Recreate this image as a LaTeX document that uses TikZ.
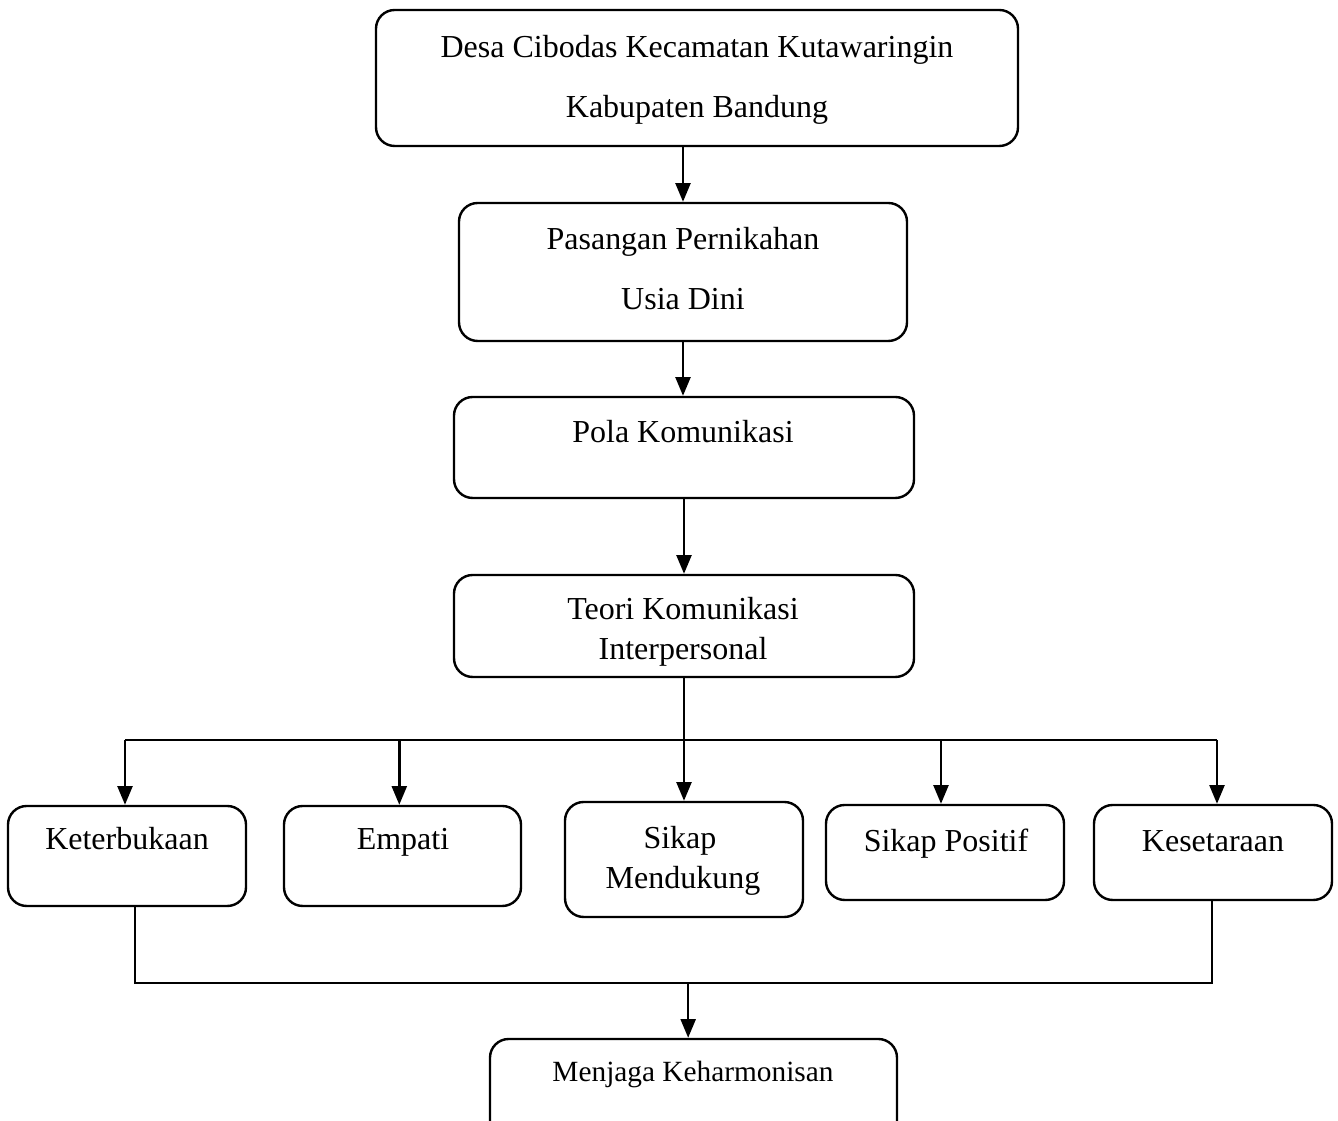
\documentclass[tikz,border=0pt]{standalone}
\usepackage{fontspec}
\setmainfont{Liberation Serif}
\usetikzlibrary{positioning,fit,arrows.meta}
\tikzset{kotak/.style={draw,rounded corners=7pt,line width=0.9pt,inner sep=0pt},
	tulis/.style={anchor=base,inner sep=0pt,font=\fontsize{12}{14}\selectfont},
	panah/.style={line width=0.9pt,-{Triangle[length=7pt,width=5.6pt]}},
	garis/.style={line width=0.9pt}}

\begin{document}
\begin{tikzpicture}[x=0.375pt,y=-0.375pt]
	\useasboundingbox (0,0) rectangle (1338,1121);
	% kotak atas
	\node[kotak,fit={(376,10)(1018,146)}] (desa) {};
	\node[kotak,fit={(459,203)(907,341)}] (pasangan) {};
	\node[kotak,fit={(454,397)(914,498)}] (pola) {};
	\node[kotak,fit={(454,575)(914,677)}] (teori) {};
	\node[kotak,fit={(490,1039)(897,1140)}] (menjaga) {};
	% lima kotak
	\foreach \nama/\xa/\ya/\xb/\yb in {keterbukaan/8/806/246/906,empati/284/806/521/906,
		mendukung/565/802/803/917,positif/826/805/1064/900,kesetaraan/1094/805/1332/900}{
		\node[kotak,fit={(\xa,\ya)(\xb,\yb)}] (\nama) {};
	}
	% teks
	\node[tulis] (desaA) at (697,58) {Desa Cibodas Kecamatan Kutawaringin};
	\node[tulis] (desaB) at (697,118) {Kabupaten Bandung};
	\node[tulis] (pasanganA) at (683,250) {Pasangan Pernikahan};
	\node[tulis] (pasanganB) at (683,310) {Usia Dini};
	\node[tulis] (polaA) at (683,443) {Pola Komunikasi};
	\node[tulis] (teoriA) at (683,620) {Teori Komunikasi};
	\node[tulis] (teoriB) at (683,660) {Interpersonal};
	\foreach \nama/\x/\y/\isi in {keterbukaanT/127/850/Keterbukaan,empatiT/403/850/Empati,
		mendukungA/680/849/Sikap,mendukungB/683/889/Mendukung,
		positifT/946/852/Sikap Positif,kesetaraanT/1213/852/Kesetaraan}{
		\node[tulis] (\nama) at (\x,\y) {\isi};
	}
	\node[tulis,font=\fontsize{11}{13}\selectfont] (menjagaT) at (693,1082) {Menjaga Keharmonisan};
	% panah
	\draw[panah] (desa.south -| pasangan) -- (pasangan.north);
	\draw[panah] (pasangan.south) -- (pasangan.south |- pola.north);
	\draw[panah] (pola.south) -- (teori.north);
	\draw[panah] (teori.south) -- (mendukung.north);
	\coordinate (bus) at (0,740);
	\draw[garis] ([xshift=-0.75pt]keterbukaan.north |- bus) -- ([xshift=1.5pt]kesetaraan.north |- bus);
	\foreach \nama/\geser in {keterbukaan/-0.75,empati/-1.2,positif/-1.5,kesetaraan/1.5}{
		\draw[panah] ([xshift=\geser pt]\nama.north |- bus) -- ([xshift=\geser pt]\nama.north);
	}
	\coordinate (bawah) at (0,983);
	\draw[garis] ([xshift=3pt]keterbukaan.south) |- ([xshift=-0.4pt]kesetaraan.south |- bawah)
		-- ([xshift=-0.4pt]kesetaraan.south);
	\draw[panah] ([xshift=-2pt]menjaga.north |- bawah) -- ([xshift=-2pt]menjaga.north);
\end{tikzpicture}
\end{document}
